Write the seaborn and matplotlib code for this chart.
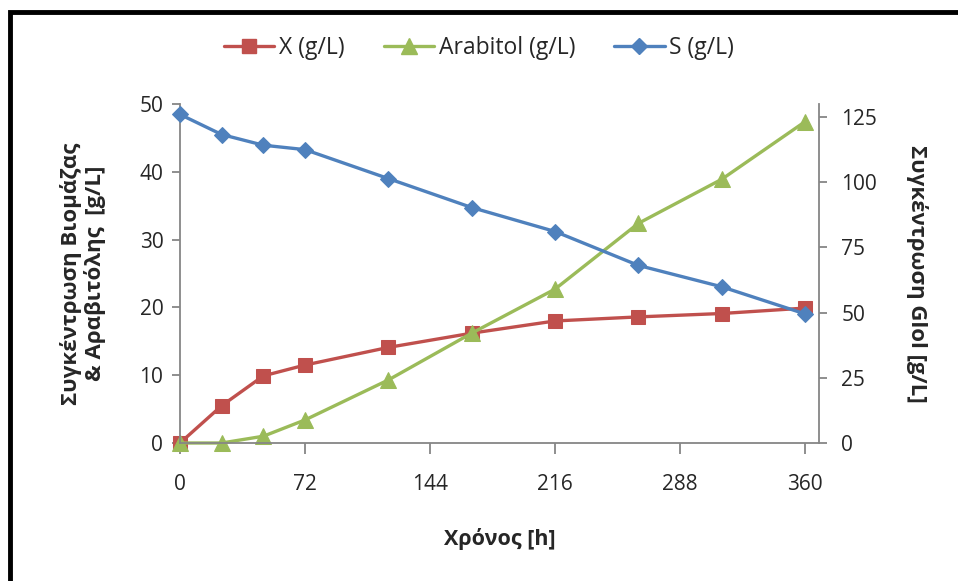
import numpy as np
import pandas as pd
import seaborn as sns
import matplotlib.pyplot as plt
from matplotlib.patches import Rectangle
from matplotlib.lines import Line2D

hours = [0, 24, 48, 72, 120, 168, 216, 264, 312, 360]
biomass = [0, 5.5, 9.9, 11.5, 14.1, 16.2, 18.0, 18.6, 19.1, 19.9]
arabitol = [0, 0, 1.0, 3.4, 9.3, 16.2, 22.7, 32.4, 38.9, 47.4]
substrate = [126.0, 118.3, 114.2, 112.5, 101.4, 90.3, 81.1, 68.1, 59.9, 49.5]
x_ticks = [0, 72, 144, 216, 288, 360]
left_ticks = [0, 10, 20, 30, 40, 50]
right_ticks = [0, 25, 50, 75, 100, 125]

df = pd.DataFrame({"h": hours, "X": biomass, "Ara": arabitol, "S": substrate})

sns.set_style("white")
plt.rcParams['font.family'] = ['Open Sans', 'DejaVu Sans']

RED, GREEN, BLUE = "#C0504D", "#9BBB59", "#4F81BD"
GRAY = "#868686"

fig = plt.figure(figsize=(9.58, 5.81), dpi=100)
ax = fig.add_axes([180 / 958, 138 / 581, 639 / 958, 339 / 581])
ax2 = ax.twinx()

sns.lineplot(data=df, x="h", y="X", ax=ax, color=RED, marker="s", markersize=10,
             markeredgecolor=RED, linewidth=2.4, clip_on=False)
sns.lineplot(data=df, x="h", y="Ara", ax=ax, color=GREEN, marker="^", markersize=11,
             markeredgecolor=GREEN, linewidth=2.4, clip_on=False)
sns.lineplot(data=df, x="h", y="S", ax=ax2, color=BLUE, marker="D", markersize=8,
             markeredgecolor=BLUE, linewidth=2.4, clip_on=False)

ax.set_xlim(0, 368)
ax.set_ylim(0, 50)
ax2.set_ylim(0, 130)
ax.set_xticks(x_ticks)
ax.set_yticks(left_ticks)
ax2.set_yticks(right_ticks)

for a in (ax, ax2):
    for side in ("left", "right", "bottom", "top"):
        a.spines[side].set_color(GRAY)
        a.spines[side].set_linewidth(1.3)
    a.spines["top"].set_visible(False)
ax.spines["right"].set_visible(False)
ax2.spines["left"].set_visible(False)
ax2.spines["bottom"].set_visible(False)

ax.tick_params(axis="x", direction="out", length=8, width=1.3, color=GRAY,
               pad=14, labelsize=15, bottom=True)
ax.tick_params(axis="y", direction="out", length=6, width=1.3, color=GRAY,
               pad=6, labelsize=15, left=True)
ax2.tick_params(axis="y", direction="out", length=6, width=1.3, color=GRAY,
                pad=10, labelsize=15, right=True)

ax.set_xlabel("Χρόνος [h]", fontsize=15.5, fontweight="bold", labelpad=24)
ax.set_ylabel("Συγκέντρωση Βιομάζας\n& Αραβιτόλης  [g/L]", fontsize=16,
              fontweight="bold", labelpad=24, linespacing=1.1)
ax2.set_ylabel("Συγκέντρωση Glol [g/L]", fontsize=16, fontweight="bold",
               rotation=270, labelpad=37)

handles = [
    Line2D([], [], color=RED, marker="s", markersize=10, linewidth=2.4),
    Line2D([], [], color=GREEN, marker="^", markersize=11, linewidth=2.4),
    Line2D([], [], color=BLUE, marker="D", markersize=8, linewidth=2.4),
]
fig.legend(handles, ["X (g/L)", "Arabitol (g/L)", "S (g/L)"], loc="center",
           bbox_to_anchor=(0.5, 1 - 48 / 581), ncol=3, frameon=False,
           fontsize=16.5, handlelength=2.2, handletextpad=0.2, columnspacing=1.7)

# outer chart frame
fig.patches.append(Rectangle((10 / 958, -0.05), 1.2, 1 - 12 / 581 + 0.05,
                             transform=fig.transFigure, fill=False,
                             edgecolor="black", linewidth=3.5))

fig.savefig("out.png", dpi=100)
